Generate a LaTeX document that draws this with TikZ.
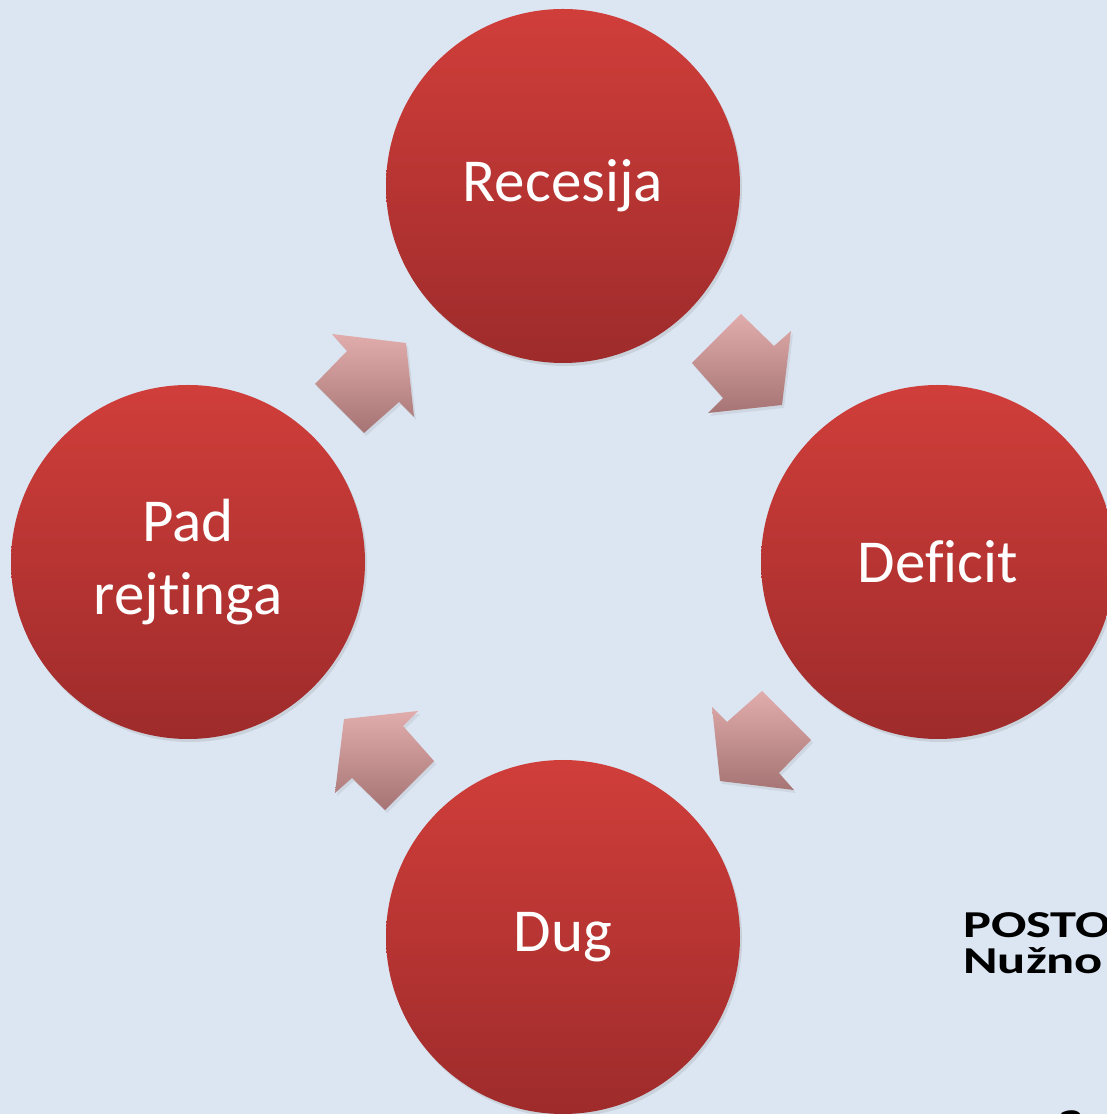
\documentclass[tikz,border=0pt]{standalone}
\usepackage{fontspec}
\setmainfont{Carlito}[Ligatures=NoCommon]
\usetikzlibrary{shadows}

\definecolor{slidebg}{RGB}{220,230,242}
\definecolor{redtop}{RGB}{208,62,58}
\definecolor{redbot}{RGB}{158,43,43}
\definecolor{pinktop}{RGB}{225,172,172}
\definecolor{pinkbot}{RGB}{166,116,116}

\tikzset{
  stage/.style={circle, minimum size=354pt, inner sep=0pt,
    top color=redtop, bottom color=redbot, text=white, align=center,
    font=\fontsize{61}{73}\selectfont,
    drop shadow={shadow xshift=2pt, shadow yshift=-3pt, opacity=0.2}},
  cyclearrow/.style={top color=pinktop, bottom color=pinkbot,
    drop shadow={shadow xshift=2pt, shadow yshift=-3pt, opacity=0.15}},
  slidetext/.style={anchor=base west, inner sep=0pt, xscale=1.38,
    font=\bfseries\fontsize{38}{38}\selectfont}
}
\newcommand{\apt}[2]{({563+(\ca)*#1-(\sa)*#2},{552+(\sa)*#1+(\ca)*#2})}

\begin{document}
\begin{tikzpicture}[x=1pt,y=1pt]
\useasboundingbox (0,0) rectangle (1107,1114);
\clip (0,0) rectangle (1107,1114);
\fill[slidebg] (0,0) rectangle (1107,1114);
	\path (563,552) coordinate(c)
        (563,928) coordinate(c1)
        (938,552) coordinate(c2)
        (563,177) coordinate(c3)
        (188,552) coordinate(c4);
\foreach \ca/\sa in {1/0, 0/-1, -1/0, 0/1}
  \path[cyclearrow] \apt{178}{248} -- \apt{211}{216} -- \apt{228}{231}
    -- \apt{219}{157} -- \apt{145}{149} -- \apt{160}{164}
    -- \apt{129}{199} -- cycle;
\node[stage] (recesija) at (c1) {Recesija};
\node[stage] (deficit) at (c2) {Deficit};
\node[stage] (dug) at (c3) {Dug};
\node[stage] (pad) at (c4) {Pad\\rejtinga};
\node[slidetext] (posto) at (963,176) {POSTO};
\node[slidetext] (nuzno) at (963,140) {Nužno};
\node[slidetext] (rest) at (1058,-16) {a};
\end{tikzpicture}
\end{document}
